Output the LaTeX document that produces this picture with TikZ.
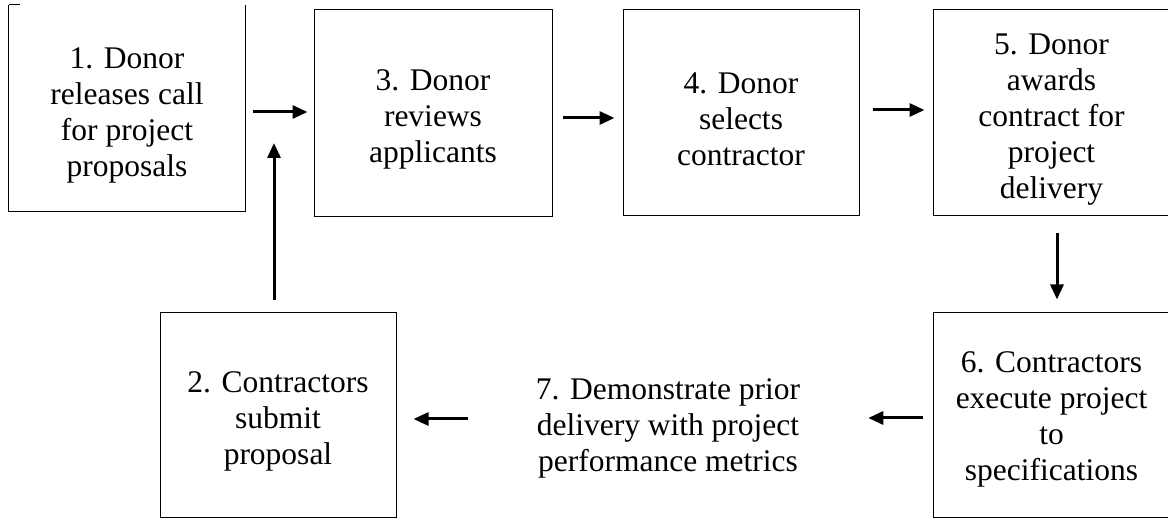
\documentclass[tikz,border=0pt]{standalone}
\usepackage{fontspec}
\setmainfont{Liberation Serif}
\usetikzlibrary{arrows.meta}
\begin{document}
\begin{tikzpicture}[x=1pt,y=-1pt,
  txt/.style={inner sep=0pt,align=center,font=\fontsize{31.5}{36}\selectfont},
  stepbox/.style={draw=black,line width=1pt,inner sep=0pt},
  arr/.style={line width=3pt,-{Triangle[length=15pt,width=13pt]}}]
\useasboundingbox (0,0) rectangle (1168,518);
\clip (0,0) rectangle (1168,518);
% boxes
\node[minimum width=236pt,minimum height=206pt,inner sep=0pt] (b1) at (127,108) {};
\node[stepbox,minimum width=238pt,minimum height=207pt] (b3) at (433,113.5) {};
\node[stepbox,minimum width=236pt,minimum height=206pt] (b4) at (741,113) {};
\node[stepbox,minimum width=241pt,minimum height=206pt] (b5) at (1053.5,113) {};
\node[stepbox,minimum width=241pt,minimum height=204.5pt] (b6) at (1053.5,415.25) {};
\node[stepbox,minimum width=236pt,minimum height=204.5pt] (b2) at (278,415.25) {};
% texts
\node[txt] (l1) at ([yshift=-7pt]b1.center) {1. Donor\\releases call\\for project\\proposals};
\node[txt] (l3) at ([yshift=-6pt]b3.center) {3. Donor\\reviews\\applicants};
\node[txt] (l4) at ([yshift=-6pt]b4.center) {4. Donor\\selects\\contractor};
\node[txt] (l5) at ([yshift=-7pt]1051.5,113) {5. Donor\\awards\\contract for\\project\\delivery};
\node[txt] (l6) at ([yshift=-4pt]1051.5,415.25) {6. Contractors\\execute project\\to\\specifications};
\node[txt] (t7) at (668,428) {7. Demonstrate prior\\delivery with project\\performance metrics};
\node[txt] (l2) at ([yshift=-6pt]b2.center) {2. Contractors\\submit\\proposal};
% box 1 outline (top edge only a short stub, as in the reference)
\draw[line width=1pt] (b1.north west) -- (b1.south west) -- (b1.south east) -- (b1.north east);
\draw[line width=1pt] (b1.north west) -- ++(11,0);
% connectors
\coordinate (j) at (274,143);
\draw[arr,shorten <=8pt,shorten >=6pt] (b1.east |- 0,112) -- (b3.west |- 0,112);
\draw[arr,shorten <=10pt,shorten >=8pt] (b3.east |- 0,118) -- (b4.west |- 0,118);
\draw[arr,shorten <=13pt,shorten >=8pt] (b4.east |- 0,110) -- (b5.west |- 0,110);
\draw[arr,shorten <=17pt,shorten >=13pt] (b5.south -| 1057,0) -- (b6.north -| 1057,0);
\draw[arr,shorten <=10pt,shorten >=68pt] (b6.west |- 0,418) -- (t7.east |- 0,418);
\draw[arr,shorten <=68pt,shorten >=17pt] (t7.west |- 0,419) -- (b2.east |- 0,419);
\draw[arr,shorten <=12pt] (b2.north -| j) -- (j);
\end{tikzpicture}
\end{document}
